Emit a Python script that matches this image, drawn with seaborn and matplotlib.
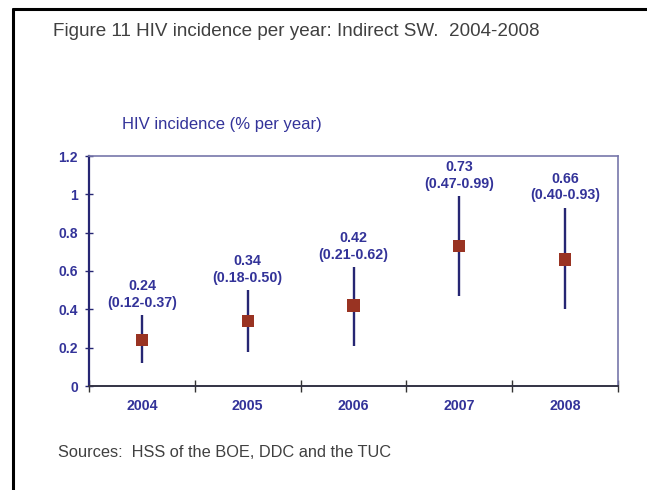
import matplotlib
matplotlib.use("Agg")
import matplotlib.pyplot as plt
import seaborn as sns
import pandas as pd
import numpy as np
from matplotlib.lines import Line2D

years = ["2004", "2005", "2006", "2007", "2008"]
incidence = [0.24, 0.34, 0.42, 0.73, 0.66]
lower = [0.12, 0.18, 0.21, 0.47, 0.40]
upper = [0.37, 0.50, 0.62, 0.99, 0.93]
y_ticks = [0, 0.2, 0.4, 0.6, 0.8, 1, 1.2]
y_tick_labels = ["0", "0.2", "0.4", "0.6", "0.8", "1", "1.2"]

sns.set_style("white")
plt.rcParams["font.family"] = ["Liberation Sans", "DejaVu Sans"]

NAVY = "#333399"
LINE = "#262673"
RED = "#993322"
GRAY = "#404040"

df = pd.DataFrame({"year": years, "pos": np.arange(len(years)),
                   "inc": incidence, "lo": lower, "hi": upper})

fig = plt.figure(figsize=(6.47, 4.90), dpi=100)
ax = fig.add_axes([89 / 647, 1 - 386 / 490, (618 - 89) / 647, (386 - 156) / 490])

ax.vlines(df["pos"], df["lo"], df["hi"], color=LINE, linewidth=1.7, zorder=2)
sns.scatterplot(data=df, x="pos", y="inc", marker="s", s=75, color=RED,
                edgecolor="none", linewidth=0, ax=ax, zorder=3)

for p, v, lo, hi in zip(df["pos"], incidence, lower, upper):
    ax.annotate(f"{v:.2f}\n({lo:.2f}-{hi:.2f})", xy=(p, hi), xytext=(0, 4),
                textcoords="offset points", ha="center", va="bottom",
                fontsize=10.3, fontweight="bold", color=NAVY, linespacing=1.2)

ax.set_xlim(-0.5, len(years) - 0.5)
ax.set_ylim(0, 1.2)
ax.set_xticks(np.arange(len(years) + 1) - 0.5)
ax.set_xticklabels([])
ax.set_xticks(np.arange(len(years)), minor=True)
ax.set_xticklabels(years, minor=True, fontsize=10.2, fontweight="bold", color=NAVY)
ax.tick_params(axis="x", which="major", direction="inout", length=8, width=1,
               color="#333333", bottom=True)
ax.tick_params(axis="x", which="minor", length=0, pad=9.5)
ax.set_yticks(y_ticks)
ax.set_yticklabels(y_tick_labels, fontsize=10, fontweight="bold", color=NAVY)
ax.tick_params(axis="y", direction="inout", length=6, width=1, color=LINE, left=True, pad=5)
ax.set_xlabel("")
ax.set_ylabel("")

ax.spines["left"].set_color(LINE)
ax.spines["left"].set_linewidth(1.6)
ax.spines["bottom"].set_color("#333344")
ax.spines["bottom"].set_linewidth(1.4)
for s in ["top", "right"]:
    ax.spines[s].set_color("#7777aa")
    ax.spines[s].set_linewidth(1.2)
for s in ax.spines.values():
    s.set_visible(True)

fig.text(53 / 647, 1 - 32 / 490, "Figure 11 HIV incidence per year: Indirect SW.  2004-2008",
         ha="left", va="center", fontsize=13.6, color=GRAY)
fig.text(122 / 647, 1 - 125 / 490, "HIV incidence (% per year)",
         ha="left", va="center", fontsize=12, color=NAVY)
fig.text(58 / 647, 1 - 452 / 490, "Sources:  HSS of the BOE, DDC and the TUC",
         ha="left", va="center", fontsize=11.8, color=GRAY)

fig.add_artist(Line2D([12.5 / 647, 1], [1 - 9 / 490, 1 - 9 / 490], transform=fig.transFigure,
                      color="black", linewidth=2.2))
fig.add_artist(Line2D([12.5 / 647, 12.5 / 647], [0, 1 - 9 / 490], transform=fig.transFigure,
                      color="black", linewidth=2.2))

fig.savefig("out.png", dpi=100)
